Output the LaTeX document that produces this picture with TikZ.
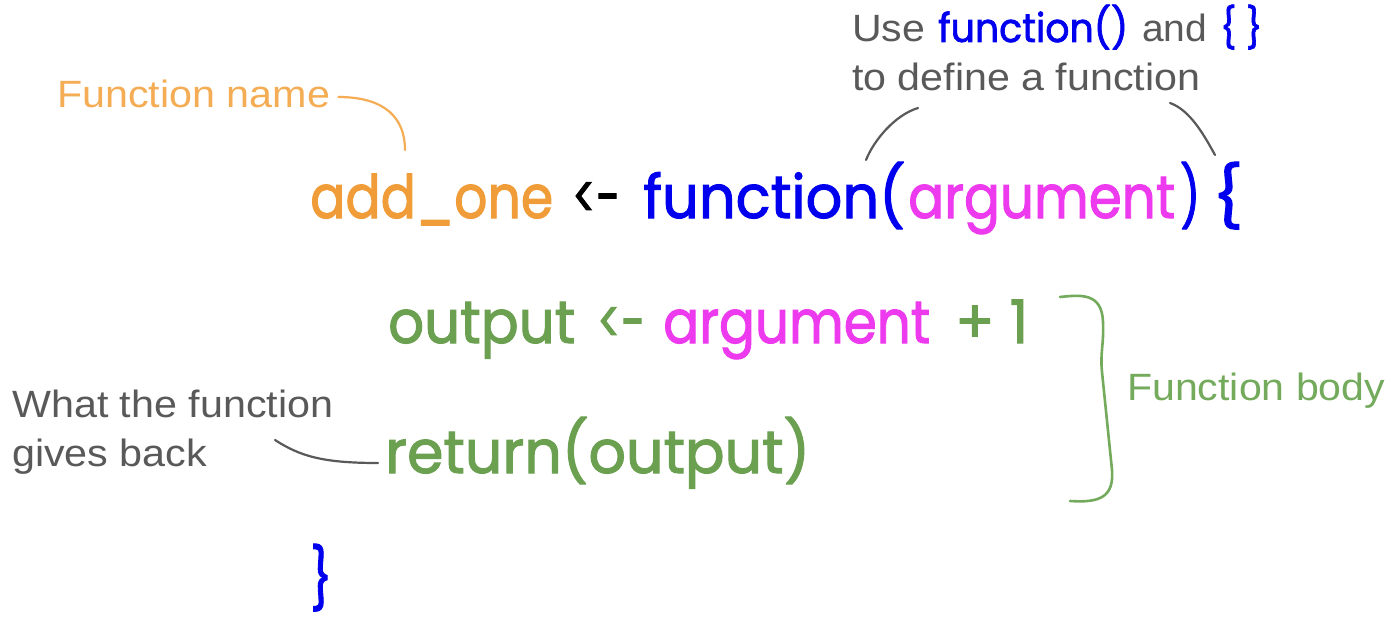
\documentclass[tikz,border=0pt]{standalone}
\usepackage{fontspec}
\setmainfont{Liberation Sans}
\newfontfamily\codefont[FakeBold=1.8]{Poppins}
\definecolor{codeorange}{HTML}{F09C38}
\definecolor{lblorange}{HTML}{F5AD55}
\definecolor{codeblue}{HTML}{0000EE}
\definecolor{codemag}{HTML}{EE3AEE}
\definecolor{codegreen}{HTML}{6AA050}
\definecolor{lblgreen}{HTML}{74AA5C}
\definecolor{lblgray}{HTML}{595959}
\newsavebox\fitbox
\newcommand\fitw[2]{\sbox\fitbox{#2}\pgfmathsetmacro\fitr{#1/\the\wd\fitbox}\scalebox{\fitr}[1]{\usebox\fitbox}}
\tikzset{
  code/.style={anchor=base west,inner sep=0pt,font=\codefont\fontsize{60}{70}\selectfont},
  lbl/.style={anchor=base west,inner sep=0pt,font=\fontsize{38}{46}\selectfont},
  smallcode/.style={anchor=base west,inner sep=0pt,font=\codefont\fontsize{40}{48}\selectfont},
  link/.style={line width=2.2pt,line cap=round}
}
\begin{document}
\begin{tikzpicture}[x=1pt,y=-1pt]
\useasboundingbox[fill=white] (0,0) rectangle (1400,634);
% line 1
\node[code,text=codeorange] (addone) at (310,218) {\fitw{243}{add\_one}};
\node[code,text=black] (arr1) at (572,218) {\fitw{48}{<-}};
\node[code,text=codeblue] (func) at (643,218) {\fitw{262}{function(}};
\node[code,text=codemag] (arg1) at (908,218) {\fitw{267}{argument}};
\node[code,text=codeblue] (rpar) at (1180,218) {\fitw{20}{)}};
\node[code,text=codeblue] (lbrace) at (1212,218) {\fitw{31}{\{}};
% line 2
\node[code,text=codegreen] (outp) at (388,343) {\fitw{187}{output}};
\node[code,text=codegreen] (arr2) at (597,343) {\fitw{48}{<-}};
\node[code,text=codemag] (arg2) at (663,343) {\fitw{267}{argument}};
\node[code,text=codegreen] (plus) at (955,343) {\fitw{73}{+ 1}};
% line 3
\node[code,text=codegreen] (ret) at (385,473) {\fitw{425}{return(output)}};
% closing brace
\node[code,text=codeblue] (rbrace) at (310,600) {\fitw{22}{\}}};
% labels
\node[lbl,text=lblorange] (fnlabel) at (57,107) {\fitw{273}{Function name}};
\node[lbl,text=lblgray] (use) at (852,42) {\fitw{73}{Use}};
\node[smallcode,text=codeblue] (usefn) at (938,42) {\fitw{190}{function()}};
\node[lbl,text=lblgray] (and) at (1142,42) {\fitw{65}{and}};
\node[smallcode,text=codeblue] (usebr) at (1220,42) {\fitw{42}{\{ \}}};
\node[lbl,text=lblgray] (todef) at (852,90) {\fitw{348}{to define a function}};
\node[lbl,text=lblgray] (what1) at (12,417) {\fitw{321}{What the function}};
\node[lbl,text=lblgray] (what2) at (12,466) {\fitw{195}{gives back}};
\node[lbl,text=lblgreen] (body) at (1127,400) {\fitw{258}{Function body}};
% connector ends
\coordinate (fnend) at (405,150);
\coordinate (lstart) at (918,108);
\coordinate (lend) at (866,160);
\coordinate (rstart) at (1170,103);
\coordinate (rend) at (1215,155);
\coordinate (gstart) at (275,440);
\coordinate (gend) at (378,463);
\coordinate (btop) at (1060,297);
\coordinate (bbot) at (1070,501);
% connectors
\draw[link,lblorange] ([xshift=8pt,yshift=10pt]fnlabel.base east) .. controls (385,97) and (405,118) .. (fnend);
\draw[link,lblgray] (lstart) .. controls (895,115) and (874,140) .. (lend);
\draw[link,lblgray] (rstart) .. controls (1190,110) and (1204,135) .. (rend);
\draw[link,lblgray] (gstart) .. controls (300,456) and (322,463) .. (gend);
\draw[link,lblgreen,line width=2.6pt] (btop) .. controls (1080,295) and (1102,292) .. (1103,322)
  .. controls (1104,345) and (1100,352) .. (1102,372)
  -- (1112,470) .. controls (1114,497) and (1100,503) .. (bbot);
\end{tikzpicture}
\end{document}
